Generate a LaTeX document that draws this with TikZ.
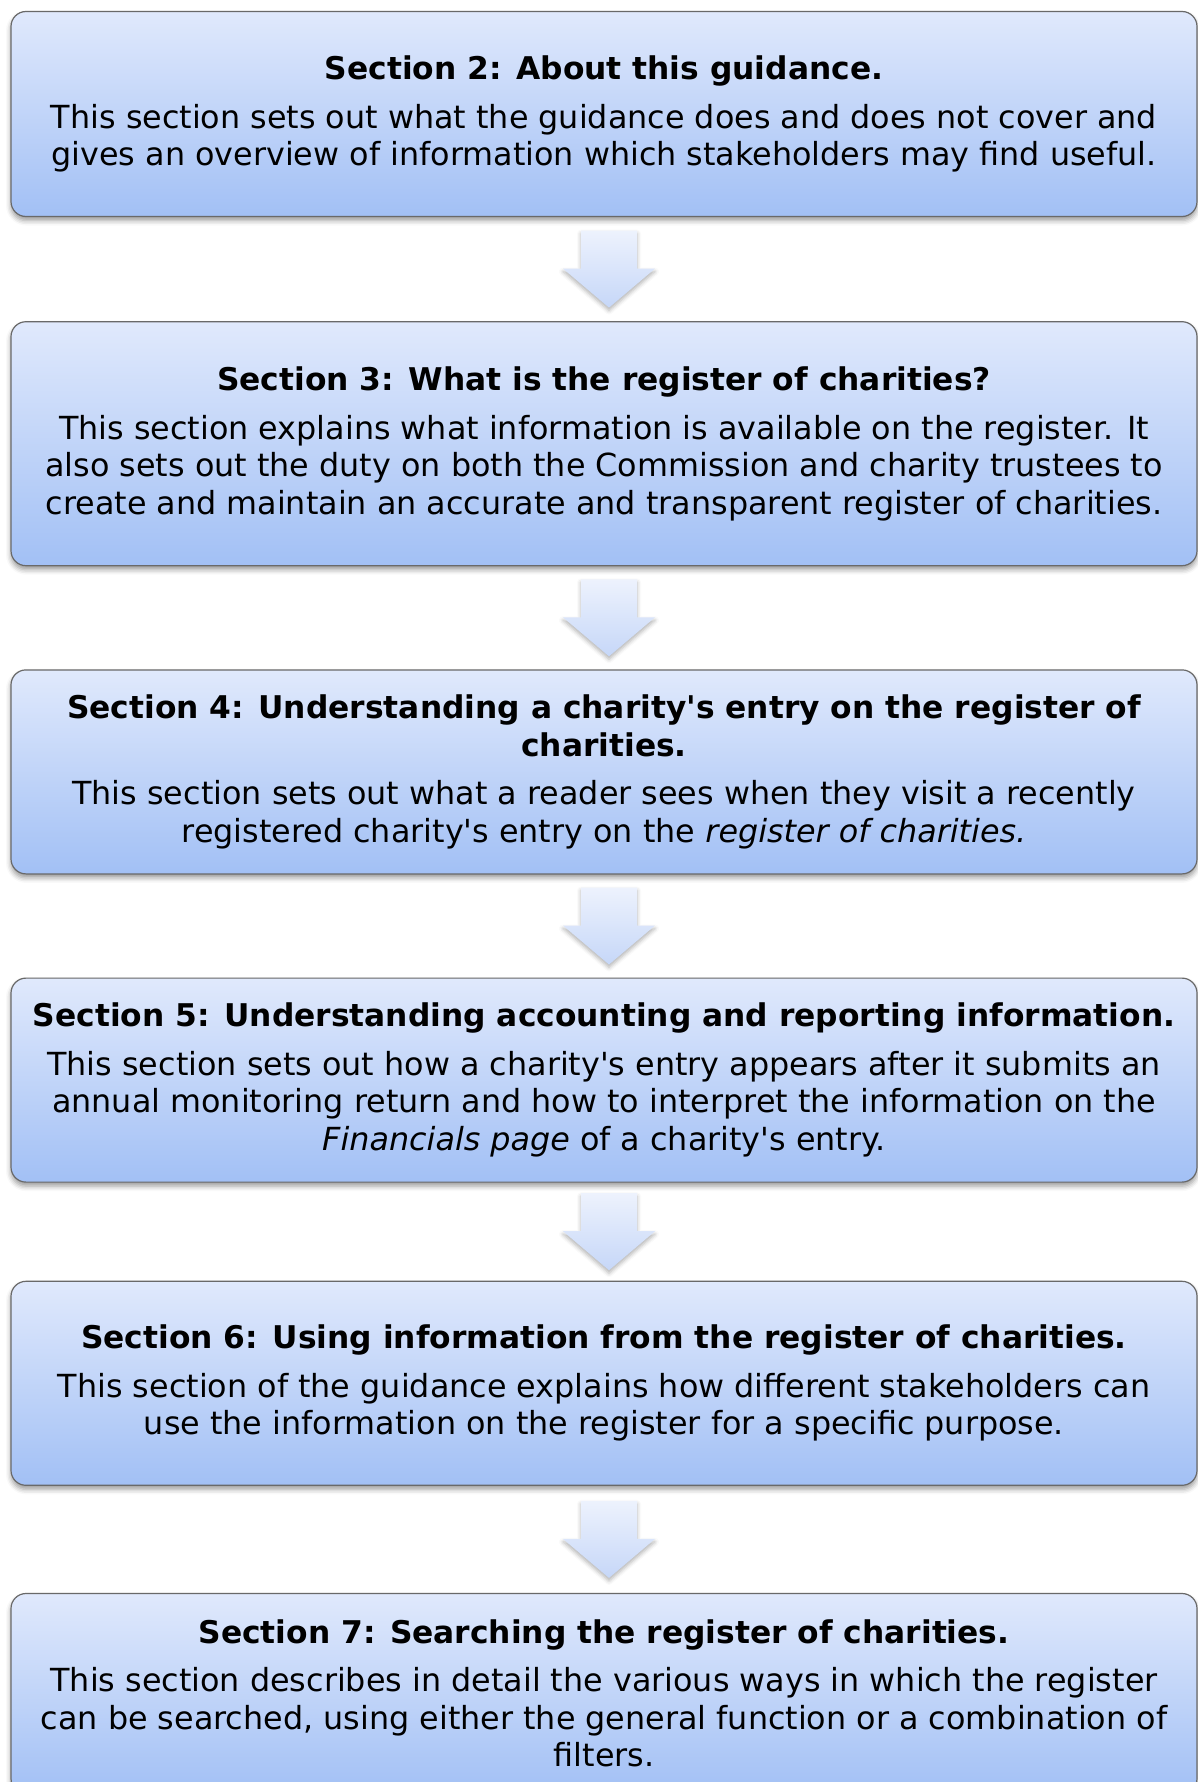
\documentclass[tikz,border=0pt]{standalone}
\usepackage{fontspec}
\setmainfont{DejaVu Sans}[Ligatures=TeXOff]
\usetikzlibrary{positioning, calc, shadows.blur}

\definecolor{boxtop}{RGB}{224,233,252}
\definecolor{boxbottom}{RGB}{162,192,245}
\definecolor{boxedge}{RGB}{105,105,105}
\definecolor{arrowtop}{RGB}{237,242,253}
\definecolor{arrowbottom}{RGB}{198,215,248}

\newcommand{\sectitle}[1]{{\fontsize{31.3pt}{37.5pt}\selectfont\bfseries #1}}

\tikzstyle{block} = [rectangle, rounded corners=15pt, minimum width=1186pt, minimum height=204pt, align=center, draw=boxedge, line width=1.2pt, top color=boxtop, bottom color=boxbottom, blur shadow={shadow xshift=0pt, shadow yshift=-4pt, shadow blur radius=5pt, shadow opacity=40}, font=\fontsize{31.8pt}{37.5pt}\selectfont]
\tikzstyle{arrowfill} = [top color=arrowtop, bottom color=arrowbottom, blur shadow={shadow xshift=0pt, shadow yshift=-3pt, shadow blur radius=4pt, shadow opacity=30}]

% block arrow, 92pt across the head and 56pt across the shaft
\tikzset{downarrow/.pic={
	\path[arrowfill] (-28pt,38.5pt) -- (28pt,38.5pt) -- (28pt,0.5pt) -- (46pt,0.5pt) -- (0pt,-38.5pt) -- (-46pt,0.5pt) -- (-28pt,0.5pt) -- cycle;
}}

\begin{document}
\begin{tikzpicture}
				\useasboundingbox (0,0) rectangle (1198pt,-1782pt);

				\node (s2) [block, minimum height=205pt] at (604pt,-114pt) {\sectitle{Section 2: About this guidance.}\\[11pt]
					This section sets out what the guidance does and does not cover and\\
					gives an overview of information which stakeholders may find useful.};
				\node (s3) [block, minimum height=244pt, below=104pt of s2] {\sectitle{Section 3: What is the register of charities?}\\[11pt]
					This section explains what information is available on the register. It\\
					also sets out the duty on both the Commission and charity trustees to\\
					create and maintain an accurate and transparent register of charities.};
				\node (s4) [block, below=103pt of s3] {\sectitle{Section 4: Understanding a charity's entry on the register of}\\
					\sectitle{charities.}\\[11pt]
					This section sets out what a reader sees when they visit a recently\\
					registered charity's entry on the \textit{register of charities.}};
				\node (s5) [block, below=103pt of s4] {\sectitle{Section 5: Understanding accounting and reporting information.}\\[11pt]
					This section sets out how a charity's entry appears after it submits an\\
					annual monitoring return and how to interpret the information on the\\
					\textit{Financials page} of a charity's entry.};
				\node (s6) [block, below=98pt of s5] {\sectitle{Section 6: Using information from the register of charities.}\\[11pt]
					This section of the guidance explains how different stakeholders can\\
					use the information on the register for a specific purpose.};
				\node (s7) [block, minimum height=200pt, below=107pt of s6] {\sectitle{Section 7: Searching the register of charities.}\\[11pt]
					This section describes in detail the various ways in which the register\\
					can be searched, using either the general function or a combination of\\
					filters.};

				% block arrows between the sections
				\pic [xshift=5pt] at ($(s2.south)!0.5!(s3.north)$) {downarrow};
				\pic [xshift=5pt] at ($(s3.south)!0.5!(s4.north)$) {downarrow};
				\pic [xshift=5pt] at ($(s4.south)!0.5!(s5.north)$) {downarrow};
				\pic [xshift=5pt] at ($(s5.south)!0.5!(s6.north)$) {downarrow};
				\pic [xshift=5pt] at ($(s6.south)!0.5!(s7.north)$) {downarrow};
\end{tikzpicture}
\end{document}
